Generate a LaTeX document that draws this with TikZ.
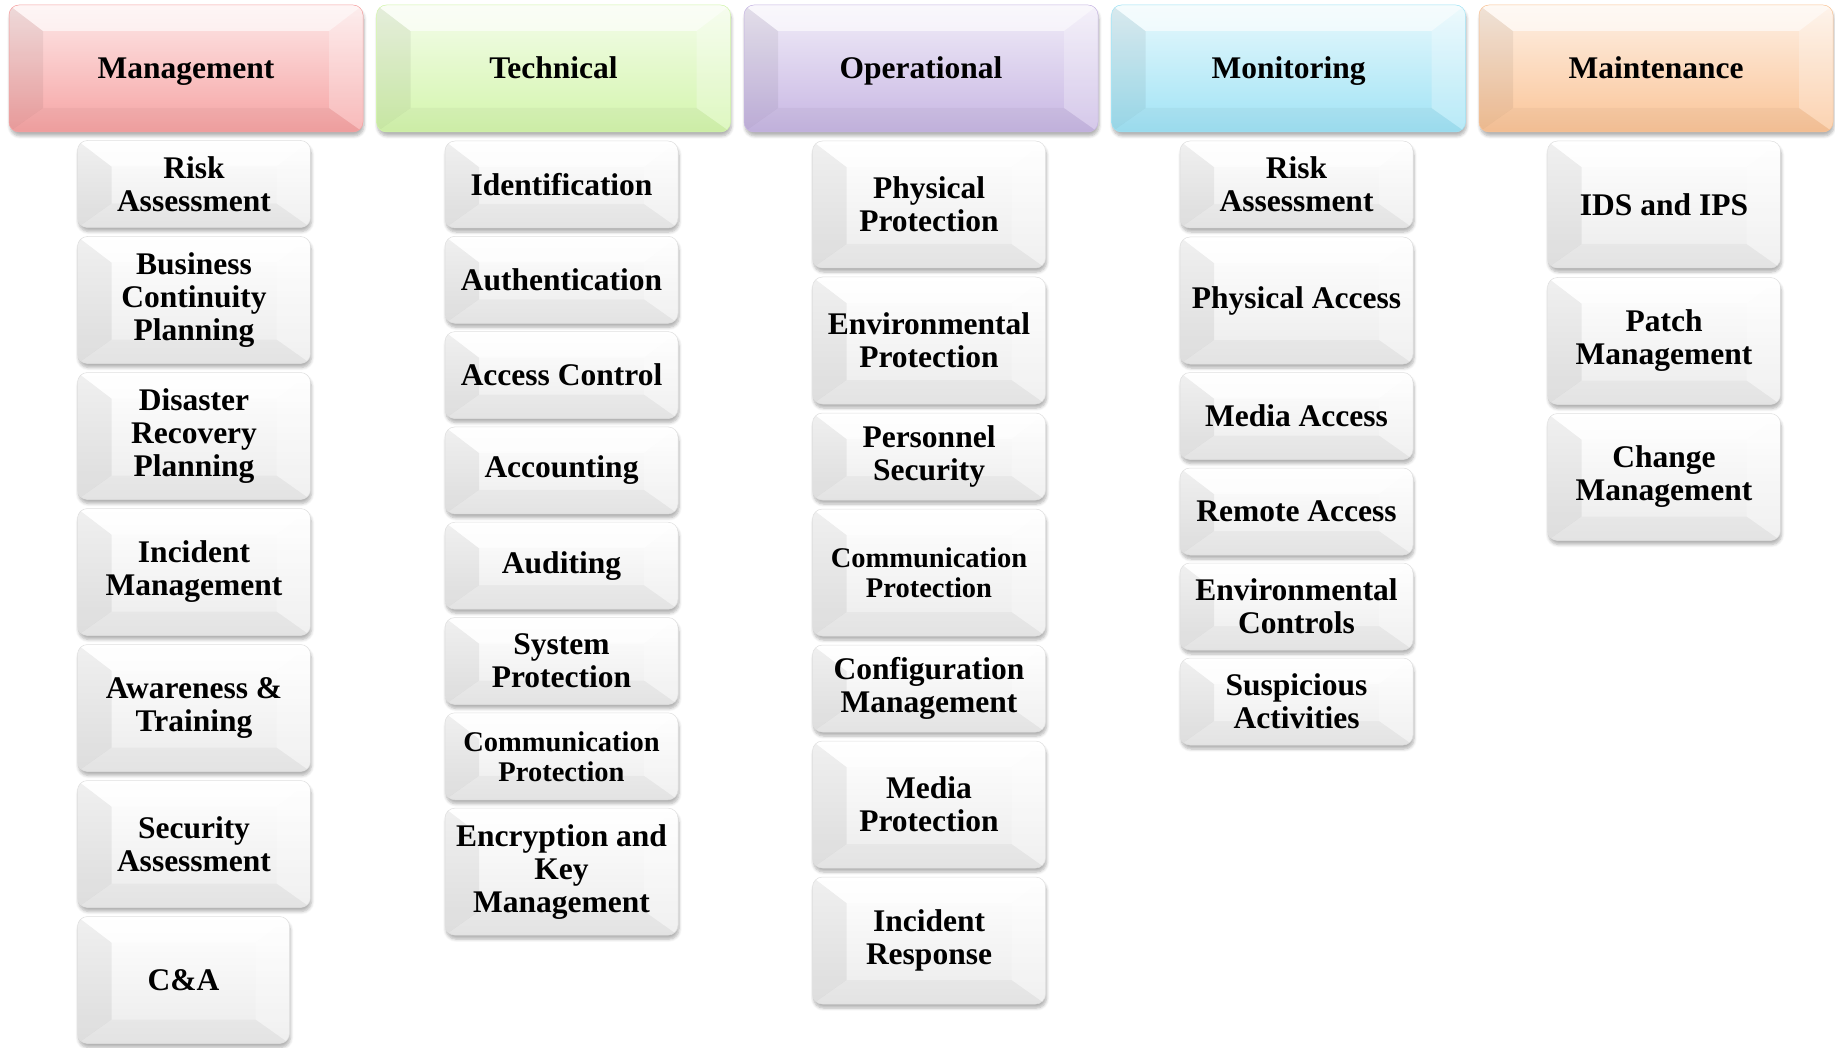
\documentclass[tikz,border=0pt]{standalone}
\usepackage{fontspec}
\setmainfont{Liberation Serif}
\usetikzlibrary{positioning,shadows.blur}
\definecolor{rosa}{HTML}{F6A3A3}
\definecolor{verde}{HTML}{D3F5AC}
\definecolor{lilas}{HTML}{C7B6E3}
\definecolor{ciano}{HTML}{A0E3F5}
\definecolor{laranja}{HTML}{FAC497}
\definecolor{cinzaclaro}{HTML}{EBEBEB}

\begin{document}
\begin{tikzpicture}[
    x=1pt, y=-1pt,
    node distance=9pt,
    bisel/.style={path picture={
      \path[sharp corners, fill=black, fill opacity=.06] (path picture bounding box.south west) -- ([shift={(34pt,24pt)}]path picture bounding box.south west) -- ([shift={(34pt,-26pt)}]path picture bounding box.north west) -- (path picture bounding box.north west) -- cycle;
      \path[sharp corners, fill=white, fill opacity=.6] (path picture bounding box.north west) -- ([shift={(34pt,-26pt)}]path picture bounding box.north west) -- ([shift={(-34pt,-26pt)}]path picture bounding box.north east) -- (path picture bounding box.north east) -- cycle;
      \path[sharp corners, fill=white, fill opacity=.25] (path picture bounding box.north east) -- ([shift={(-34pt,-26pt)}]path picture bounding box.north east) -- ([shift={(-34pt,24pt)}]path picture bounding box.south east) -- (path picture bounding box.south east) -- cycle;
      \path[sharp corners, fill=black, fill opacity=.03] (path picture bounding box.south east) -- ([shift={(-34pt,24pt)}]path picture bounding box.south east) -- ([shift={(34pt,24pt)}]path picture bounding box.south west) -- (path picture bounding box.south west) -- cycle;
    }},
    sombra/.style={blur shadow={shadow xshift=1pt, shadow yshift=-4pt, shadow blur steps=6, shadow blur radius=3pt, shadow opacity=30}},
    categoria/.style={rounded corners=10pt, minimum width=354pt, minimum height=127pt, inner sep=0pt, outer sep=0pt, text height=21pt, text depth=0pt, top color=#1!25, bottom color=#1, draw=#1, line width=.5pt, sombra, bisel, font=\fontsize{31.5}{33}\selectfont\bfseries},
    controle/.style={rounded corners=10pt, minimum width=233pt, minimum height=87pt, inner sep=0pt, outer sep=0pt, align=center, top color=white, bottom color=cinzaclaro, draw=gray!25, line width=.5pt, sombra, bisel, font=\fontsize{31.5}{33}\selectfont\bfseries},
    alto/.style={minimum height=127pt},
    menor/.style={font=\fontsize{28.5}{30}\selectfont\bfseries}
  ]
    \useasboundingbox (0,0) rectangle (1835,1048);
    \node[categoria=rosa, anchor=north west] (man) at (9,5) {Management};
    \node[categoria=verde, right=13.5pt of man] (tec) {Technical};
    \node[categoria=lilas, right=13.5pt of tec] (ope) {Operational};
    \node[categoria=ciano, right=13.5pt of ope] (mon) {Monitoring};
    \node[categoria=laranja, right=13.5pt of mon] (mai) {Maintenance};

    \node[controle, below=8.5pt of man, xshift=8pt] (man1) {Risk\\Assessment};
    \node[controle, alto, below=of man1] (man2) {Business\\Continuity\\Planning};
    \node[controle, alto, below=of man2] (man3) {Disaster\\Recovery\\Planning};
    \node[controle, alto, below=of man3] (man4) {Incident\\Management};
    \node[controle, alto, below=of man4] (man5) {Awareness \&\\Training};
    \node[controle, alto, below=of man5] (man6) {Security\\Assessment};
    \node[controle, alto, minimum width=212pt, below=of man6.south west, anchor=north west] (man7) {C\&A};

    \node[controle, below=9pt of tec, xshift=8pt] (tec1) {Identification};
    \node[controle, below=8.3pt of tec1] (tec2) {Authentication};
    \node[controle, below=8.3pt of tec2] (tec3) {Access Control};
    \node[controle, below=8.3pt of tec3] (tec4) {Accounting};
    \node[controle, below=8.3pt of tec4] (tec5) {Auditing};
    \node[controle, below=8.3pt of tec5] (tec6) {System\\Protection};
    \node[controle, menor, below=8.3pt of tec6] (tec7) {Communication\\Protection};
    \node[controle, alto, below=8.3pt of tec7] (tec8) {Encryption and\\Key\\Management};

    \node[controle, alto, below=9pt of ope, xshift=8pt] (ope1) {Physical\\Protection};
    \node[controle, alto, below=of ope1] (ope2) {Environmental\\Protection};
    \node[controle, below=of ope2] (ope3) {Personnel\\Security};
    \node[controle, alto, menor, below=of ope3] (ope4) {Communication\\Protection};
    \node[controle, below=of ope4] (ope5) {Configuration\\Management};
    \node[controle, alto, below=of ope5] (ope6) {Media\\Protection};
    \node[controle, alto, below=of ope6] (ope7) {Incident\\Response};

    \node[controle, below=9pt of mon, xshift=8pt] (mon1) {Risk\\Assessment};
    \node[controle, alto, below=of mon1] (mon2) {Physical Access};
    \node[controle, below=8.5pt of mon2] (mon3) {Media Access};
    \node[controle, below=8.5pt of mon3] (mon4) {Remote Access};
    \node[controle, below=8pt of mon4] (mon5) {Environmental\\Controls};
    \node[controle, below=8pt of mon5] (mon6) {Suspicious\\Activities};

    \node[controle, alto, below=9pt of mai, xshift=8pt] (mai1) {IDS and IPS};
    \node[controle, alto, below=9.5pt of mai1] (mai2) {Patch\\Management};
    \node[controle, alto, below=of mai2] (mai3) {Change\\Management};
  \end{tikzpicture}
\end{document}
